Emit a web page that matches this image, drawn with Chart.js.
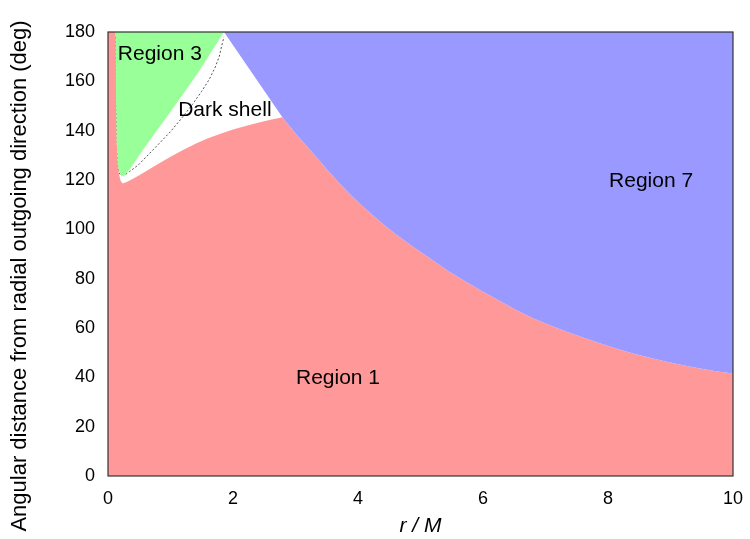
<!DOCTYPE html>
<html>
<head>
<meta charset="utf-8">
<script src="https://cdn.jsdelivr.net/npm/chart.js@4/dist/chart.umd.min.js"></script>
<style>
  html, body { margin: 0; padding: 0; background: #ffffff; }
  #wrap { width: 750px; height: 539px; position: relative; }
</style>
</head>
<body>
<div id="wrap"><canvas id="c" width="750" height="539"></canvas></div>
<script>
// r / M values and angles (deg) along each region boundary.

// Upper edge of Region 1 (red): left strip, rim under the dark shell, then the escape curve
const region1R   = [0, 0.123, 0.128, 0.14, 0.155, 0.175, 0.2, 0.235, 0.3, 0.4, 0.5, 0.6, 0.8, 1.0, 1.2, 1.4, 1.6, 1.8, 2.0, 2.2, 2.4, 2.6, 2.79, 3.0, 3.28, 3.5, 3.71, 3.92, 4.14, 4.38, 4.62, 4.88, 5.15, 5.4, 5.68, 5.98, 6.27, 6.53, 6.8, 7.07, 7.34, 7.6, 7.87, 8.13, 8.4, 8.67, 8.94, 9.2, 9.47, 9.73, 10];
const region1Deg = [180, 180, 155, 135, 127, 122.5, 119.8, 118.6, 119.2, 120.5, 121.9, 123.4, 126.5, 129.4, 132.2, 134.7, 136.9, 138.8, 140.5, 141.9, 143.2, 144.4, 145.4, 138.9, 130.8, 124.4, 118.5, 113, 107.8, 102.6, 97.7, 92.9, 88.3, 83.8, 79.5, 75.0, 70.9, 67.3, 64.0, 61.1, 58.5, 56.1, 53.8, 51.7, 49.7, 47.9, 46.3, 44.9, 43.6, 42.5, 41.6];

// Lower edge of Region 3 (green)
const region3R   = [0.123, 0.128, 0.14, 0.155, 0.175, 0.2, 0.245, 0.35, 0.51, 0.7, 0.94, 1.2, 1.47, 1.7, 1.856];
const region3Deg = [180, 155, 135, 127, 123.6, 122, 121.3, 124.4, 130.4, 137.2, 145.5, 154.8, 164.6, 173.8, 180];

// Lower edge of Region 7 (blue)
const region7R   = [1.856, 2.79, 3.0, 3.28, 3.5, 3.71, 3.92, 4.14, 4.38, 4.62, 4.88, 5.15, 5.4, 5.68, 5.98, 6.27, 6.53, 6.8, 7.07, 7.34, 7.6, 7.87, 8.13, 8.4, 8.67, 8.94, 9.2, 9.47, 9.73, 10];
const region7Deg = [180, 145.4, 138.9, 130.8, 124.4, 118.5, 113, 107.8, 102.6, 97.7, 92.9, 88.3, 83.8, 79.5, 75.0, 70.9, 67.3, 64.0, 61.1, 58.5, 56.1, 53.8, 51.7, 49.7, 47.9, 46.3, 44.9, 43.6, 42.5, 41.6];

// Dotted guide curve through the dark shell
const guideR   = [0.123, 0.125, 0.128, 0.14, 0.155, 0.17, 0.19, 0.22, 0.27, 0.35, 0.49, 0.8, 1.0, 1.18, 1.35, 1.5, 1.62, 1.71, 1.78, 1.82, 1.856];
const guideDeg = [178, 165, 154.6, 138, 127.6, 124, 122.3, 121.8, 122.1, 123.5, 126.2, 134.3, 139.6, 145.1, 150.6, 156, 160.8, 165.4, 170, 174.5, 178];

// Region names and where they sit (r / M, deg)
const regionNames = ['Region 3', 'Dark shell', 'Region 7', 'Region 1'];
const regionNameR   = [0.83, 1.87, 8.69, 3.68];
const regionNameDeg = [171.1, 148.4, 119.6, 39.7];

// Axis ticks and titles
const xTicks = [0, 2, 4, 6, 8, 10];
const yTicks = [0, 20, 40, 60, 80, 100, 120, 140, 160, 180];
const yTitle = 'Angular distance from radial outgoing direction (deg)';

const pts = (xs, ys) => xs.map((x, i) => ({ x: x, y: ys[i] }));

const FONT = '"Liberation Sans", Arial, Helvetica, sans-serif';

const frameAndLabels = {
  id: 'frameAndLabels',
  afterDatasetsDraw(chart) {
    const { ctx, chartArea: a, scales } = chart;
    ctx.save();
    ctx.font = '21px ' + FONT;
    ctx.fillStyle = '#000';
    ctx.textAlign = 'center';
    ctx.textBaseline = 'middle';
    regionNames.forEach((t, i) => {
      ctx.fillText(t, scales.x.getPixelForValue(regionNameR[i]), scales.y.getPixelForValue(regionNameDeg[i]));
    });
    ctx.strokeStyle = '#333';
    ctx.lineWidth = 1.2;
    ctx.strokeRect(a.left, a.top, a.right - a.left, a.bottom - a.top);
    ctx.restore();
  },
  afterDraw(chart) {
    // vertical axis title, centred on the full canvas height
    const { ctx } = chart;
    ctx.save();
    ctx.font = '22px ' + FONT;
    ctx.fillStyle = '#000';
    ctx.textAlign = 'center';
    ctx.textBaseline = 'middle';
    ctx.translate(20, 276);
    ctx.rotate(-Math.PI / 2);
    ctx.fillText(yTitle, 0, 0);
    ctx.restore();
  }
};

new Chart(document.getElementById('c'), {
  type: 'line',
  data: {
    datasets: [
      {
        label: 'Region 7',
        data: pts(region7R, region7Deg),
        borderWidth: 0,
        pointRadius: 0,
        backgroundColor: '#9999ff',
        fill: 'end',
        tension: 0
      },
      {
        label: 'Region 3',
        data: pts(region3R, region3Deg),
        borderWidth: 0,
        pointRadius: 0,
        backgroundColor: '#99ff99',
        fill: 'end',
        tension: 0
      },
      {
        label: 'Region 1',
        data: pts(region1R, region1Deg),
        borderWidth: 0,
        pointRadius: 0,
        backgroundColor: '#ff9999',
        fill: 'start',
        tension: 0
      },
      {
        label: 'guide',
        data: pts(guideR, guideDeg),
        borderColor: '#555555',
        borderWidth: 1,
        borderDash: [2, 2],
        pointRadius: 0,
        fill: false,
        tension: 0
      }
    ]
  },
  options: {
    responsive: false,
    animation: false,
    layout: { padding: { top: 32, right: 17, left: 0, bottom: 0 } },
    plugins: { legend: { display: false }, tooltip: { enabled: false } },
    scales: {
      x: {
        type: 'linear',
        min: 0, max: 10,
        afterBuildTicks: s => { s.ticks = xTicks.map(v => ({ value: v })); },
        afterFit: s => { s.height = 63; s.paddingLeft = 0; s.paddingRight = 0; },
        grid: { display: false, drawTicks: false },
        border: { display: false },
        ticks: { font: { family: FONT, size: 18 }, color: '#000', padding: 12, maxRotation: 0 },
        title: { display: true, text: 'r / M', font: { family: FONT, size: 21, style: 'italic' }, color: '#000', padding: { top: 0, bottom: 0 } }
      },
      y: {
        type: 'linear',
        min: 0, max: 180,
        afterBuildTicks: s => { s.ticks = yTicks.map(v => ({ value: v })); },
        afterFit: s => { s.width = 108; s.paddingTop = 0; s.paddingBottom = 0; },
        grid: { display: false, drawTicks: false },
        border: { display: false },
        ticks: { font: { family: FONT, size: 18 }, color: '#000', padding: 13 }
      }
    }
  },
  plugins: [frameAndLabels]
});
</script>
</body>
</html>
